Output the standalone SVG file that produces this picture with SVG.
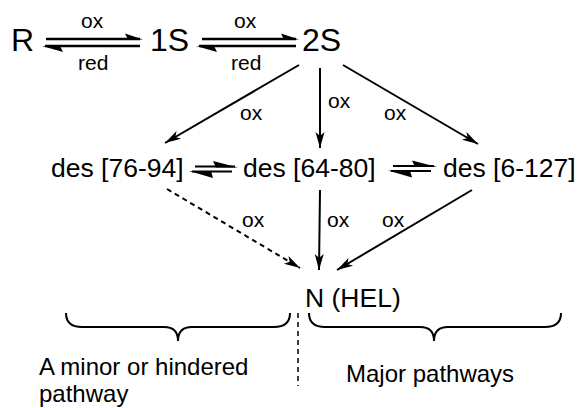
<svg xmlns="http://www.w3.org/2000/svg" width="579" height="408" viewBox="0 0 579 408">
<style>
text{font-family:"Liberation Sans",Arial,sans-serif;fill:#000}
.big{font-size:32px}
.mid{font-size:26.5px}
.sm{font-size:21px}
.lab{font-size:24px}
.ar{stroke:#000;stroke-width:2;fill:none}
.hp{stroke:#000;stroke-width:2.6;fill:none}
.dash{stroke-dasharray:5,4}
.br{stroke:#000;stroke-width:2;fill:none}
</style>
<defs>
<marker id="ah" markerUnits="userSpaceOnUse" markerWidth="18" markerHeight="10" refX="16" refY="5" orient="auto" overflow="visible">
<path d="M0,0.5 L16,5 L0,9.5 L4,5 z" fill="#000"/>
</marker>
</defs>
<rect width="579" height="408" fill="#fff"/>
<g id="R"><text class="big" x="11" y="51">R</text></g>
<g id="S1"><text class="big" x="150" y="51">1S</text></g>
<g id="S2"><text class="big" x="302" y="51">2S</text></g>
<g id="des7694"><text class="mid" x="51" y="177">des [76-94]</text></g>
<g id="des6480"><text class="mid" x="243" y="177">des [64-80]</text></g>
<g id="des6127"><text class="mid" x="443" y="177">des [6-127]</text></g>
<g id="N"><text class="mid" x="305" y="307">N (HEL)</text></g>
<g id="connectors">
<line class="hp" x1="46" y1="39" x2="140" y2="39"/>
<path d="M125,33.5 L143,39.5 L128,39.5 z" fill="#000"/>
<line class="hp" x1="45" y1="46" x2="140" y2="46"/>
<path d="M42,46 L63,52 L60,46 z" fill="#000"/>
<text class="sm" x="81" y="28">ox</text>
<text class="sm" x="78" y="70">red</text>
<line class="hp" x1="202" y1="39" x2="296" y2="39"/>
<path d="M281,33.5 L299,39.5 L284,39.5 z" fill="#000"/>
<line class="hp" x1="199" y1="46" x2="296" y2="46"/>
<path d="M196,46 L217,52 L214,46 z" fill="#000"/>
<text class="sm" x="234" y="28">ox</text>
<text class="sm" x="231" y="70">red</text>
<line class="ar" x1="299" y1="65" x2="165" y2="143" marker-end="url(#ah)"/>
<line class="ar" x1="320" y1="68" x2="320" y2="148" marker-end="url(#ah)"/>
<line class="ar" x1="343" y1="65" x2="478" y2="144" marker-end="url(#ah)"/>
<text class="sm" x="240" y="120">ox</text>
<text class="sm" x="328" y="108">ox</text>
<text class="sm" x="384" y="120">ox</text>
<line class="ar" x1="195" y1="166.5" x2="235" y2="166.5"/>
<path d="M213,161 L238,167.5 L216,167.5 z" fill="#000"/>
<line class="ar" x1="192" y1="171.5" x2="232" y2="171.5"/>
<path d="M189,171 L213,178 L211,171 z" fill="#000"/>
<line class="ar" x1="393" y1="166" x2="434" y2="166"/>
<path d="M412,160.5 L437,167 L415,167 z" fill="#000"/>
<line class="ar" x1="391" y1="171" x2="431" y2="171"/>
<path d="M388,170.5 L412,177.5 L410,170.5 z" fill="#000"/>
<line class="ar dash" x1="167" y1="189" x2="300" y2="268" marker-end="url(#ah)"/>
<line class="ar" x1="320" y1="190" x2="319" y2="270" marker-end="url(#ah)"/>
<line class="ar" x1="472" y1="190" x2="337" y2="270" marker-end="url(#ah)"/>
<text class="sm" x="242" y="227">ox</text>
<text class="sm" x="327" y="227">ox</text>
<text class="sm" x="382" y="227">ox</text>
</g>
<g id="braces">
<path class="br" d="M66,313 Q66,327 82,327 L164,327 Q178,327 178,341 Q178,327 192,327 L274,327 Q290,327 290,313"/>
<path class="br" d="M309,313 Q309,327 325,327 L420,327 Q434,327 434,341 Q434,327 448,327 L545,327 Q561,327 561,313"/>
<line x1="298" y1="313" x2="298" y2="386" stroke="#000" stroke-width="1.5" stroke-dasharray="5,4"/>
</g>
<g id="labels">
<text class="lab" x="39" y="375">A minor or hindered</text>
<text class="lab" x="39" y="402">pathway</text>
<text class="lab" x="346" y="382">Major pathways</text>
</g>
</svg>
